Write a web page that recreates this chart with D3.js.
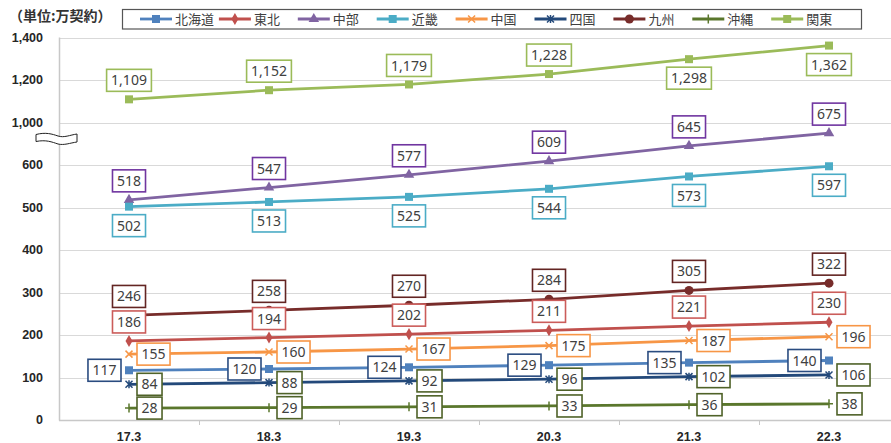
<!DOCTYPE html>
<html>
<head>
<meta charset="utf-8">
<script src="https://cdn.jsdelivr.net/npm/d3@7"></script>
<style>
  body { margin: 0; background: #fff; }
  svg { display: block; }
</style>
</head>
<body>
<svg id="chart" width="891" height="443"></svg>
<script>
// ---- data ----
const categories = ["17.3", "18.3", "19.3", "20.3", "21.3", "22.3"];
const seriesNames = ["北海道", "東北", "中部", "近畿", "中国", "四国", "九州", "沖縄", "関東"];
const hokkaido = [117, 120, 124, 129, 135, 140];
const tohoku   = [186, 194, 202, 211, 221, 230];
const chubu    = [518, 547, 577, 609, 645, 675];
const kinki    = [502, 513, 525, 544, 573, 597];
const chugoku  = [155, 160, 167, 175, 187, 196];
const shikoku  = [84, 88, 92, 96, 102, 106];
const kyushu   = [246, 258, 270, 284, 305, 322];
const okinawa  = [28, 29, 31, 33, 36, 38];
const kanto    = [1109, 1152, 1179, 1228, 1298, 1362];
const lowerTicks = [0, 100, 200, 300, 400, 500, 600];
const upperTicks = [1000, 1200, 1400];
const unitLabel = "（単位:万契約）";

const seriesValues = [hokkaido, tohoku, chubu, kinki, chugoku, shikoku, kyushu, okinawa, kanto];

// ---- appearance per series ----
const seriesStyle = [
  { color: "#4F81BD", box: "#2A4C80", marker: "square",   place: "left" },
  { color: "#C0504D", box: "#CB5C5A", marker: "diamond",  place: "above" },
  { color: "#8064A2", box: "#7035A0", marker: "triangle", place: "above" },
  { color: "#4BACC6", box: "#4BACC6", marker: "square",   place: "below" },
  { color: "#F79646", box: "#F79646", marker: "x",        place: "right" },
  { color: "#23497A", box: "#4F6228", marker: "star",     place: "right" },
  { color: "#772C2A", box: "#632523", marker: "circle",   place: "above" },
  { color: "#5A772C", box: "#4F6228", marker: "plus",     place: "right" },
  { color: "#9BBB59", box: "#9BBB59", marker: "square",
    place: ["above", "above", "above", "above", "below", "below"] }
];

const svg = d3.select("#chart");
const plotLeft = 59, plotBottom = 420;

const x = d3.scaleBand().domain(categories).range([plotLeft, plotLeft + 840]);
const xc = c => x(c) + x.bandwidth() / 2;

// broken value axis: linear lower segment, compressed upper segment
const yLow = d3.scaleLinear().domain([0, 700]).range([plotBottom, 122.5]);
const yHigh = d3.scaleLinear().domain([1000, 1400]).range([122.5, 37.5]);
const y = v => (v >= 1000 ? yHigh(v) : yLow(v));

const fmt = d3.format(",");

// gridlines
const gridVals = lowerTicks.slice(1).concat(upperTicks);
svg.append("g").selectAll("line").data(gridVals).join("line")
  .attr("x1", plotLeft).attr("x2", 891)
  .attr("y1", d => Math.round(y(d)) + 0.5).attr("y2", d => Math.round(y(d)) + 0.5)
  .attr("stroke", "#D9D9D9").attr("stroke-width", 1.2);

// axes lines
svg.append("line").attr("x1", plotLeft + 0.5).attr("x2", plotLeft + 0.5)
  .attr("y1", y(1400)).attr("y2", plotBottom + 0.5)
  .attr("stroke", "#C8C8C8").attr("stroke-width", 1.5);
svg.append("line").attr("x1", plotLeft).attr("x2", 891)
  .attr("y1", plotBottom + 0.5).attr("y2", plotBottom + 0.5)
  .attr("stroke", "#C8C8C8").attr("stroke-width", 1.5);

// x tick marks at category boundaries
svg.append("g").selectAll("line").data(categories.slice(1)).join("line")
  .attr("x1", d => x(d) + 0.5).attr("x2", d => x(d) + 0.5)
  .attr("y1", plotBottom).attr("y2", plotBottom + 5)
  .attr("stroke", "#C8C8C8").attr("stroke-width", 1);

// y tick labels
svg.append("g").selectAll("text").data(lowerTicks.concat(upperTicks)).join("text")
  .attr("x", 43).attr("y", d => y(d)).attr("dy", "0.35em")
  .attr("text-anchor", "end")
  .attr("font-family", "Liberation Sans, Arial, sans-serif")
  .attr("font-size", 12.5).attr("font-weight", "bold").attr("fill", "#262626")
  .text(d => fmt(d));

// x tick labels
svg.append("g").selectAll("text").data(categories).join("text")
  .attr("x", d => xc(d)).attr("y", 437).attr("dy", "0.35em")
  .attr("text-anchor", "middle")
  .attr("font-family", "Liberation Sans, Arial, sans-serif")
  .attr("font-size", 12.5).attr("font-weight", "bold").attr("fill", "#262626")
  .text(d => d);

// axis break symbol
svg.append("path")
  .attr("d", "M36,134.5 C46,132 52,134 58,136 C64,138 70,135 77,134 L77,142 C70,143 64,145.5 58,144 C52,142 46,139.5 36,141.5 Z")
  .attr("fill", "#fff").attr("stroke", "#222").attr("stroke-width", 1);

// marker drawing
function drawMarker(g, type, color) {
  if (type === "square") {
    g.append("rect").attr("x", -4).attr("y", -4).attr("width", 8).attr("height", 8).attr("fill", color);
  } else if (type === "diamond") {
    g.append("path").attr("d", d3.symbol(d3.symbolDiamond, 42)()).attr("fill", color);
  } else if (type === "triangle") {
    g.append("path").attr("d", d3.symbol(d3.symbolTriangle, 48)()).attr("fill", color);
  } else if (type === "circle") {
    g.append("circle").attr("r", 4.5).attr("fill", color);
  } else {
    const s = 3.5;
    let d = "";
    if (type === "x" || type === "star") d += `M${-s},${-s}L${s},${s}M${-s},${s}L${s},${-s}`;
    if (type === "star") d += `M0,${-s - 0.5}L0,${s + 0.5}`;
    if (type === "plus") d += `M0,${-4.5}L0,${4.5}M-4,0L4,0`;
    g.append("path").attr("d", d).attr("stroke", color).attr("stroke-width", 1.5).attr("fill", "none");
  }
}

const line = d3.line().x(d => xc(d.c)).y(d => y(d.v));

// series lines and markers
seriesValues.forEach((vals, i) => {
  const st = seriesStyle[i];
  const pts = vals.map((v, j) => ({ c: categories[j], v }));
  const g = svg.append("g");
  g.append("path").datum(pts).attr("d", line)
    .attr("fill", "none").attr("stroke", st.color).attr("stroke-width", 2.8)
    .attr("stroke-linejoin", "round");
  pts.forEach(p => {
    const m = g.append("g").attr("transform", `translate(${xc(p.c)},${y(p.v)})`);
    drawMarker(m, st.marker, st.color);
  });
});

// data labels
const labelLayer = svg.append("g")
  .attr("font-family", "Noto Sans, DejaVu Sans, sans-serif").attr("font-size", 14);
seriesValues.forEach((vals, i) => {
  const st = seriesStyle[i];
  vals.forEach((v, j) => {
    const place = Array.isArray(st.place) ? st.place[j] : st.place;
    const px = xc(categories[j]), py = y(v);
    const g = labelLayer.append("g");
    const rect = g.append("rect");
    const t = g.append("text").attr("text-anchor", "middle").attr("dy", "0.36em")
      .attr("fill", "#404040").text(fmt(v));
    const w = t.node().getComputedTextLength() + 9, h = 22;
    let cx = px, cy = py;
    if (place === "above") cy = py - 19;
    else if (place === "below") cy = py + 19;
    else if (place === "right") cx = px + 8 + w / 2;
    else if (place === "left") cx = px - 8 - w / 2;
    rect.attr("x", -w / 2).attr("y", -h / 2).attr("width", w).attr("height", h)
      .attr("fill", "#fff").attr("stroke", st.box).attr("stroke-width", 1.6);
    g.attr("transform", `translate(${cx},${cy})`);
  });
});

// unit label
svg.append("text").attr("x", 9).attr("y", 16).attr("dy", "0.35em")
  .attr("font-family", "Noto Sans CJK JP, sans-serif").attr("font-size", 14)
  .attr("font-weight", "bold").attr("fill", "#333").text(unitLabel);

// legend
const legend = svg.append("g");
legend.append("rect").attr("x", 122.5).attr("y", 9.5).attr("width", 739).attr("height", 19.5)
  .attr("fill", "#fff").attr("stroke", "#555").attr("stroke-width", 1.2);
const legendStep = 78.9;
seriesNames.forEach((name, i) => {
  const st = seriesStyle[i];
  const lx = 140 + i * legendStep;
  const g = legend.append("g").attr("transform", `translate(${lx},19)`);
  g.append("line").attr("x1", 0).attr("x2", 32).attr("stroke", st.color).attr("stroke-width", 2.8);
  drawMarker(g.append("g").attr("transform", "translate(16,0)"), st.marker, st.color);
  g.append("text").attr("x", 35).attr("dy", "0.36em")
    .attr("font-family", "Noto Sans CJK JP, sans-serif").attr("font-size", 13)
    .attr("fill", "#404040").text(name);
});
</script>
</body>
</html>
